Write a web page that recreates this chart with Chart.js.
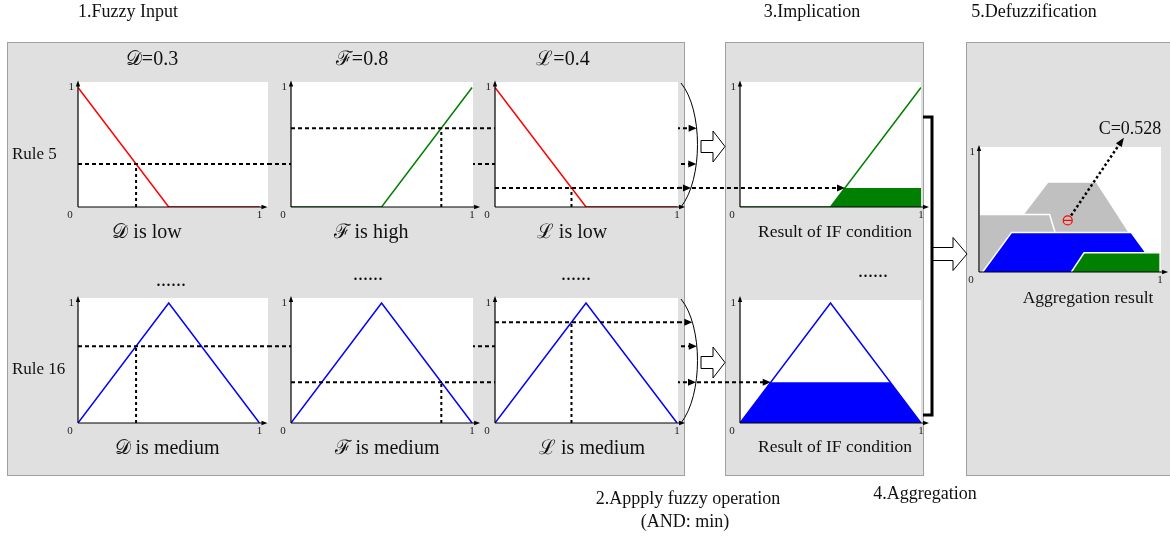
<!DOCTYPE html>
<html>
<head>
<meta charset="utf-8">
<title>Fuzzy inference</title>
<script src="https://cdn.jsdelivr.net/npm/chart.js@4.4.1/dist/chart.umd.min.js"></script>
<style>
  html, body { margin: 0; padding: 0; background: #fff; }
  body { position: relative; width: 1170px; height: 541px; overflow: hidden;
         font-family: "Liberation Serif", "Times New Roman", serif; color: #111; }
  .panel { position: absolute; background: #e0e0e0; border: 1px solid #a0a0a0; box-sizing: border-box; }
  .lay { position: absolute; left: 0; top: 0; }
  .t { position: absolute; transform: translate(-50%, -50%); white-space: nowrap; line-height: 1; }
  .big { font-size: 18px; }
  .math { font-size: 20px; font-family: "Liberation Serif", "DejaVu Serif", serif; }
  .res { font-size: 17.5px; }
  .rule { position: absolute; font-size: 17px; line-height: 1; transform: translateY(-50%); white-space: nowrap; }
</style>
</head>
<body>
<div class="panel" style="left:7px;top:42px;width:678px;height:434px"></div>
<div class="panel" style="left:725px;top:42px;width:199px;height:434px"></div>
<div class="panel" style="left:966px;top:42px;width:230px;height:434px"></div>
<canvas id="back" class="lay" width="1170" height="541"></canvas>
<div id="charts" class="lay"></div>
<canvas id="front" class="lay" width="1170" height="541"></canvas>
<div id="texts" class="lay"></div>

<script>
// membership functions on [0,1]
var lowX = [0, 0.5, 1],  lowY = [1, 0, 0];
var highX = [0, 0.5, 1], highY = [0, 0, 1];
var medX = [0, 0.5, 1],  medY = [0, 1, 0];

// inputs and firing degrees
var inputNames = ['𝒟', 'ℱ', 'ℒ'];
var inputShown = ['0.3', '0.8', '0.4'];
var inputAt = [0.32, 0.83, 0.42];
var rule5Terms = ['low', 'high', 'low'];
var rule16Terms = ['medium', 'medium', 'medium'];
var rule5Deg = [0.36, 0.66, 0.16];
var rule16Deg = [0.64, 0.34, 0.84];

// clipped consequents (implication)
var cut5X = [0.5, 0.58, 1, 1],   cut5Y = [0, 0.16, 0.16, 0];
var cut16X = [0, 0.17, 0.83, 1], cut16Y = [0, 0.34, 0.34, 0];

// aggregated output
var aggBigX = [0, 0.38, 0.65, 0.97],    aggBigY = [0, 0.75, 0.75, 0];
var aggLeftX = [0, 0, 0.39, 0.42, 0.5], aggLeftY = [0, 0.48, 0.48, 0.33, 0];
var aggBlueX = [0.02, 0.18, 0.84, 1],   aggBlueY = [0, 0.33, 0.33, 0];
var aggGreenX = [0.51, 0.58, 1, 1],     aggGreenY = [0, 0.16, 0.16, 0];
var centroidX = [0.49], centroidY = [0.43];
var pointerX = [0.80], pointerY = [1.12];
var centroidLabel = 'C=0.528';

var tickFont = { family: 'Liberation Serif', size: 11 };

function pts(xs, ys) {
    return xs.map(function (x, i) { return { x: x, y: ys[i] }; });
}

function arrowHead(c, x, y, dx, dy, len, half) {
    c.beginPath();
    c.moveTo(x, y);
    c.lineTo(x - dx * len - dy * half, y - dy * len + dx * half);
    c.lineTo(x - dx * len + dy * half, y - dy * len - dx * half);
    c.closePath();
    c.fill();
}

// white plot area, arrowed axes and the origin "0"
var frame = {
    id: 'frame',
    beforeDraw: function (chart) {
        var a = chart.chartArea, c = chart.ctx;
        c.save();
        c.fillStyle = '#fff';
        c.fillRect(a.left, a.top, a.right - a.left, a.bottom - a.top);
        c.restore();
    },
    afterDatasetsDraw: function (chart) {
        var a = chart.chartArea, c = chart.ctx;
        var xEnd = chart.scales.x.getPixelForValue(1) + 8;
        var yEnd = chart.scales.y.getPixelForValue(1) - 7;
        c.save();
        c.strokeStyle = '#000'; c.fillStyle = '#000'; c.lineWidth = 1.2;
        c.beginPath();
        c.moveTo(a.left, a.bottom); c.lineTo(a.left, yEnd + 3);
        c.moveTo(a.left, a.bottom); c.lineTo(xEnd - 3, a.bottom);
        c.stroke();
        arrowHead(c, a.left, yEnd, 0, -1, 6, 2.2);
        arrowHead(c, xEnd, a.bottom, 1, 0, 6, 2.2);
        c.font = '11px "Liberation Serif"';
        c.fillStyle = '#222'; c.textAlign = 'center'; c.textBaseline = 'middle';
        c.fillText('0', a.left - 8, a.bottom + 8);
        c.restore();
    }
};

// dotted pointer from the centroid to its label
var pointer = {
    id: 'pointer',
    afterDatasetsDraw: function (chart) {
        if (!chart.options.plugins.pointer) return;
        var c = chart.ctx, sx = chart.scales.x, sy = chart.scales.y;
        var x0 = sx.getPixelForValue(centroidX[0]), y0 = sy.getPixelForValue(centroidY[0]);
        var x1 = sx.getPixelForValue(pointerX[0]), y1 = sy.getPixelForValue(pointerY[0]);
        var d = Math.hypot(x1 - x0, y1 - y0), ux = (x1 - x0) / d, uy = (y1 - y0) / d;
        c.save();
        c.strokeStyle = '#000'; c.fillStyle = '#000'; c.lineWidth = 2.5; c.setLineDash([2.5, 2.5]);
        c.beginPath();
        c.moveTo(x0 + ux * 6, y0 + uy * 6);
        c.lineTo(x1 - ux * 7, y1 - uy * 7);
        c.stroke();
        c.setLineDash([]);
        arrowHead(c, x1, y1, ux, uy, 9, 3.5);
        c.restore();
    }
};

function makeChart(box, xmax, ymax, datasets, padTop, extra) {
    padTop = padTop || 6;
    var w = box[2] - box[0], h = box[3] - box[1];
    var cw = 16 + w + 12, chh = padTop + h + 16;
    var cv = document.createElement('canvas');
    cv.width = cw; cv.height = chh;
    cv.style.cssText = 'position:absolute;left:' + (box[0] - 16) + 'px;top:' + (box[1] - padTop) +
        'px;width:' + cw + 'px;height:' + chh + 'px';
    document.getElementById('charts').appendChild(cv);
    var ch = new Chart(cv.getContext('2d'), {
        type: 'line',
        data: { datasets: datasets },
        options: {
            responsive: false,
            animation: false,
            events: [],
            layout: { padding: { top: padTop, right: 12, left: 0, bottom: 0 } },
            elements: { point: { radius: 0 }, line: { tension: 0 } },
            plugins: {
                legend: { display: false },
                tooltip: { enabled: false },
                filler: { drawTime: 'beforeDatasetDraw' },
                pointer: extra || false
            },
            scales: {
                x: {
                    type: 'linear', min: 0, max: xmax,
                    grid: { display: false, drawTicks: false }, border: { display: false },
                    afterBuildTicks: function (s) { s.ticks = [{ value: 1 }]; },
                    afterFit: function (s) { s.height = 16; s.paddingLeft = 0; s.paddingRight = 0; },
                    ticks: { font: tickFont, color: '#222', padding: 2, maxRotation: 0, autoSkip: false }
                },
                y: {
                    type: 'linear', min: 0, max: ymax,
                    grid: { display: false, drawTicks: false }, border: { display: false },
                    afterBuildTicks: function (s) { s.ticks = [{ value: 1 }]; },
                    afterFit: function (s) { s.width = 16; s.paddingTop = 0; s.paddingBottom = 0; },
                    ticks: { font: tickFont, color: '#222', padding: 4, autoSkip: false }
                }
            }
        },
        plugins: [frame, pointer]
    });
    ch.$left = box[0] - 16;
    ch.$top = box[1] - padTop;
    return ch;
}

function inputSets(mx, my, color, xv, deg, xmax) {
    return [
        { data: [{ x: 0, y: deg }, { x: xmax, y: deg }], borderColor: '#000', borderWidth: 2, borderDash: [4, 3], order: 1 },
        { data: [{ x: xv, y: 0 }, { x: xv, y: deg }], borderColor: '#000', borderWidth: 2, borderDash: [3, 3], order: 1 },
        { data: pts(mx, my), borderColor: color, borderWidth: 1.5, order: 2 }
    ];
}

// plot boxes: left, top, right, bottom (page px)
var colBox = [[78, 268, 1.047], [291, 473, 1.005], [495, 678, 1.005]];
var row1Y = [82, 207, 1.046], row2Y = [298, 423, 1.042];

var row5Fn = [[lowX, lowY, '#ff0000'], [highX, highY, '#008000'], [lowX, lowY, '#ff0000']];
var row16Fn = [[medX, medY, '#0000ff'], [medX, medY, '#0000ff'], [medX, medY, '#0000ff']];

var row5Charts = [], row16Charts = [];
for (var i = 0; i < 3; i++) {
    var cb = colBox[i];
    row5Charts.push(makeChart([cb[0], row1Y[0], cb[1], row1Y[1]], cb[2], row1Y[2],
        inputSets(row5Fn[i][0], row5Fn[i][1], row5Fn[i][2], inputAt[i], rule5Deg[i], cb[2])));
    row16Charts.push(makeChart([cb[0], row2Y[0], cb[1], row2Y[1]], cb[2], row2Y[2],
        inputSets(row16Fn[i][0], row16Fn[i][1], row16Fn[i][2], inputAt[i], rule16Deg[i], cb[2])));
}

var imp5 = makeChart([740, 82, 921, 207], 1.0, 1.046, [
    { data: pts(highX, highY), borderColor: '#008000', borderWidth: 1.5, order: 1 },
    { data: pts(cut5X, cut5Y), borderWidth: 0, borderColor: 'rgba(0,0,0,0)', backgroundColor: '#008000', fill: 'origin', order: 2 }
]);
var imp16 = makeChart([740, 300, 921, 423], 1.0, 1.025, [
    { data: pts(medX, medY), borderColor: '#0000ff', borderWidth: 1.5, order: 1 },
    { data: pts(cut16X, cut16Y), borderWidth: 0, borderColor: 'rgba(0,0,0,0)', backgroundColor: '#0000ff', fill: 'origin', order: 2 }
]);

var agg = makeChart([979, 147, 1161, 272], 1.005, 1.042, [
    { data: pts(centroidX, centroidY), showLine: false, pointStyle: 'circle', pointRadius: 4.5,
      pointBorderColor: '#ff0000', pointBackgroundColor: 'rgba(0,0,0,0)', pointBorderWidth: 1.2, order: 0 },
    { data: pts(centroidX, centroidY), showLine: false, pointStyle: 'line', pointRadius: 4,
      pointBorderColor: '#ff0000', pointBorderWidth: 1.2, order: 0 },
    { data: pts(aggGreenX, aggGreenY), borderColor: '#fff', borderWidth: 1.5, backgroundColor: '#008000', fill: 'origin', order: 1 },
    { data: pts(aggBlueX, aggBlueY), borderColor: '#fff', borderWidth: 1.5, backgroundColor: '#0000ff', fill: 'origin', order: 2 },
    { data: pts(aggLeftX, aggLeftY), borderColor: '#fff', borderWidth: 1.5, backgroundColor: '#c0c0c0', fill: 'origin', order: 3 },
    { data: pts(aggBigX, aggBigY), borderColor: '#fff', borderWidth: 1.5, backgroundColor: '#c0c0c0', fill: 'origin', order: 4 }
], 32, true);

// ---- connectors, brackets and block arrows ----
function px(ch, v) { return ch.$left + ch.scales.x.getPixelForValue(v); }
function py(ch, v) { return ch.$top + ch.scales.y.getPixelForValue(v); }
function area(ch) {
    var a = ch.chartArea;
    return { l: ch.$left + a.left, r: ch.$left + a.right, t: ch.$top + a.top, b: ch.$top + a.bottom };
}
function bezAt(p, t) {
    var u = 1 - t;
    return [u * u * u * p[0][0] + 3 * u * u * t * p[1][0] + 3 * u * t * t * p[2][0] + t * t * t * p[3][0],
            u * u * u * p[0][1] + 3 * u * u * t * p[1][1] + 3 * u * t * t * p[2][1] + t * t * t * p[3][1]];
}
function bezXForY(p, y) {
    var best = p[0], bd = 1e9;
    for (var t = 0; t <= 1; t += 0.005) {
        var q = bezAt(p, t);
        if (Math.abs(q[1] - y) < bd) { bd = Math.abs(q[1] - y); best = q; }
    }
    return best[0];
}
function blockArrow(c, x0, x1, y, shaft, head, headLen) {
    c.beginPath();
    c.moveTo(x0, y - shaft); c.lineTo(x1 - headLen, y - shaft); c.lineTo(x1 - headLen, y - head);
    c.lineTo(x1, y); c.lineTo(x1 - headLen, y + head); c.lineTo(x1 - headLen, y + shaft);
    c.lineTo(x0, y + shaft); c.closePath();
    c.fillStyle = '#fff'; c.fill();
    c.strokeStyle = '#000'; c.lineWidth = 1; c.stroke();
}

var bk = document.getElementById('back').getContext('2d');
var fr = document.getElementById('front').getContext('2d');

var rows = [
    { charts: row5Charts, degs: rule5Deg, imp: imp5, cx: cut5X, cy: cut5Y },
    { charts: row16Charts, degs: rule16Deg, imp: imp16, cx: cut16X, cy: cut16Y }
];
rows.forEach(function (row) {
    var last = area(row.charts[2]);
    var x0 = last.r + 3;
    var bz = [[x0, last.t + 1], [x0 + 22, last.t + 28], [x0 + 22, last.b - 28], [x0, last.b]];
    row.charts.forEach(function (ch, i) {
        var y = py(ch, row.degs[i]);
        var tip = bezXForY(bz, y);
        bk.save();
        bk.strokeStyle = '#000'; bk.lineWidth = 2; bk.setLineDash([4, 3]);
        bk.beginPath(); bk.moveTo(area(ch).r, y); bk.lineTo(tip - 6, y); bk.stroke();
        bk.restore();
        fr.fillStyle = '#000';
        arrowHead(fr, tip, y, 1, 0, 8, 3.5);
    });
    fr.strokeStyle = '#000'; fr.lineWidth = 1;
    fr.beginPath(); fr.moveTo(bz[0][0], bz[0][1]);
    fr.bezierCurveTo(bz[1][0], bz[1][1], bz[2][0], bz[2][1], bz[3][0], bz[3][1]);
    fr.stroke();

    // minimum carried into the implication plot
    var yI = py(row.imp, row.cy[1]);
    var xs = bezXForY(bz, yI), xe = px(row.imp, row.cx[1]);
    fr.save();
    fr.strokeStyle = '#000'; fr.lineWidth = 2; fr.setLineDash([4, 3]);
    fr.beginPath(); fr.moveTo(xs + 1, yI); fr.lineTo(xe - 6, yI); fr.stroke();
    fr.restore();
    fr.fillStyle = '#000';
    arrowHead(fr, xe, yI, 1, 0, 8, 3.5);

    var ia = area(row.imp);
    blockArrow(fr, x0 + 20, ia.l - 15, (last.t + last.b) / 2 + 2, 6, 15.5, 12);
});

// aggregation bracket and arrow
var i5 = area(imp5);
fr.strokeStyle = '#000'; fr.lineWidth = 3;
fr.beginPath();
fr.moveTo(i5.r + 2, 117); fr.lineTo(932, 117); fr.lineTo(932, 415); fr.lineTo(i5.r + 2, 415);
fr.stroke();
blockArrow(fr, 933, area(agg).l - 12, 254, 6.5, 16.5, 14);

// ---- text ----
var texts = document.getElementById('texts');
function addText(txt, x, y, cls) {
    var d = document.createElement('div');
    d.className = 't ' + cls;
    d.style.left = x + 'px'; d.style.top = y + 'px';
    d.textContent = txt;
    texts.appendChild(d);
    return d;
}
addText('1.Fuzzy Input', 128, 11, 'big');
addText('3.Implication', 812, 11, 'big');
addText('5.Defuzzification', 1034, 11, 'big');
addText('2.Appply fuzzy operation', 688, 498, 'big');
addText('(AND: min)', 685, 521, 'big');
addText('4.Aggregation', 925, 493, 'big');

var titleX = [152, 362, 563], row5LabelX = [147, 371, 572], row16LabelX = [167, 387, 592];
for (var k = 0; k < 3; k++) {
    addText(inputNames[k] + '=' + inputShown[k], titleX[k], 58, 'math');
    addText(inputNames[k] + ' is ' + rule5Terms[k], row5LabelX[k], 231, 'math');
    addText(inputNames[k] + ' is ' + rule16Terms[k], row16LabelX[k], 447, 'math');
}
[[171, 284], [368, 278], [576, 278], [873, 275]].forEach(function (p) {
    addText('......', p[0], p[1] - 5.5, 'math');
});
addText('Result of IF condition', 835, 232, 'res');
addText('Result of IF condition', 835, 447, 'res');
addText('Aggregation result', 1088, 298, 'res');
addText(centroidLabel, 1130, 128, 'big');

var r5 = document.createElement('div');
r5.className = 'rule'; r5.style.left = '12px'; r5.style.top = '153px'; r5.textContent = 'Rule 5';
texts.appendChild(r5);
var r16 = document.createElement('div');
r16.className = 'rule'; r16.style.left = '12px'; r16.style.top = '368px'; r16.textContent = 'Rule 16';
texts.appendChild(r16);
</script>
</body>
</html>
